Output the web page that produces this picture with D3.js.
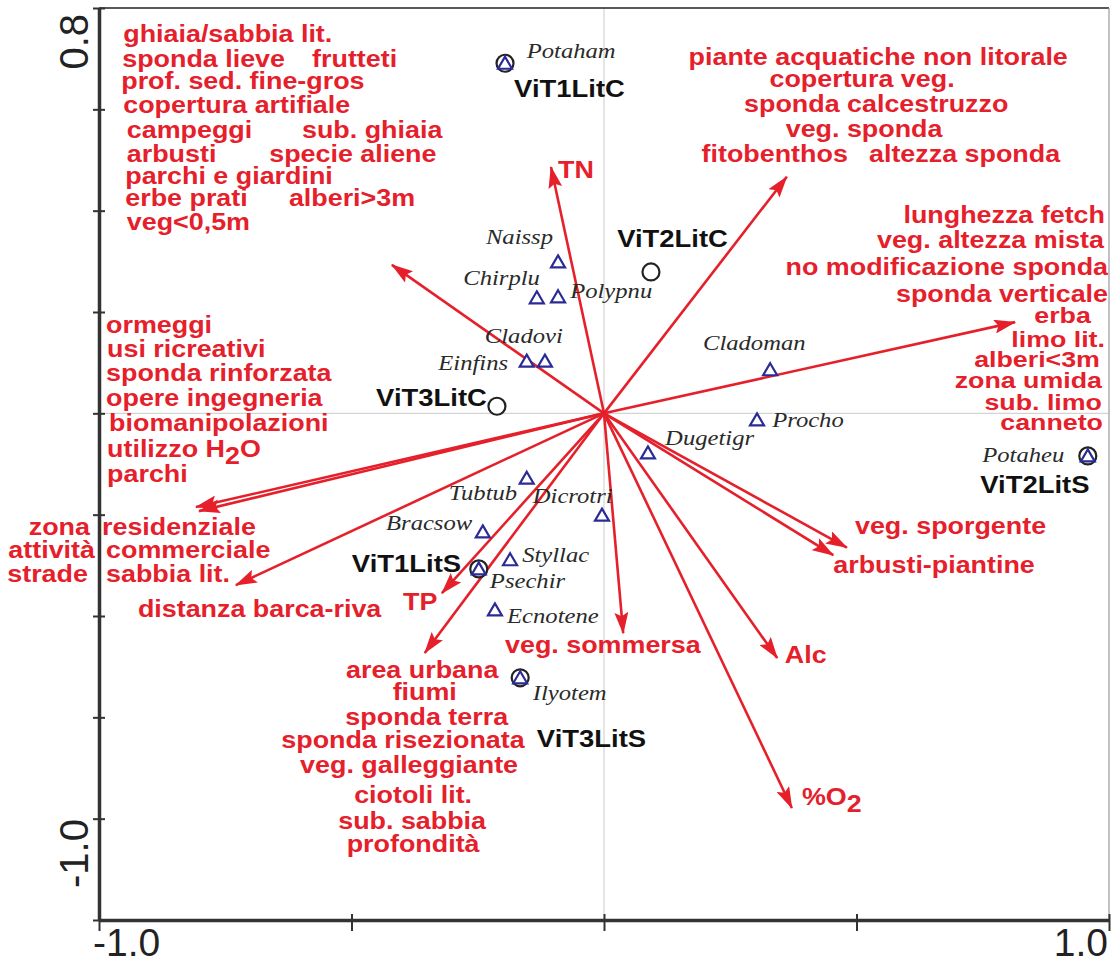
<!DOCTYPE html>
<html><head><meta charset="utf-8">
<script src="https://cdn.jsdelivr.net/npm/d3@7"></script>
<style>body{margin:0;background:#fff}</style>
</head><body><svg id="c" width="1111" height="965"></svg>
<script>
// ---------- data (ordination scores) ----------
const speciesNames = ["Potaham","Naissp","Chirplu","Polypnu","Cladovi","Einfins","Cladoman","Procho","Dugetigr","Tubtub","Dicrotri","Bracsow","Styllac","Psechir","Ecnotene","Ilyotem","Potaheu"];
const speciesAxis1 = [-0.196,-0.091,-0.133,-0.091,-0.117,-0.153,0.329,0.303,0.087,-0.153,-0.004,-0.240,-0.186,-0.248,-0.216,-0.166,0.958];
const speciesAxis2 = [0.691,0.299,0.228,0.230,0.103,0.103,0.086,-0.013,-0.078,-0.128,-0.201,-0.234,-0.289,-0.307,-0.388,-0.522,-0.084];

const siteNames = ["ViT1LitC","ViT2LitC","ViT3LitC","ViT2LitS","ViT1LitS","ViT3LitS"];
const siteAxis1 = [-0.196,0.093,-0.212,0.958,-0.248,-0.166];
const siteAxis2 = [0.691,0.279,0.014,-0.084,-0.307,-0.522];

const envArrowIds = ["TN","groupUL","groupUR","groupR","groupL1","groupL2","sabbiaLit","TP","groupBottom","vegSommersa","Alc","O2","vegSporgente","arbustiPiantine"];
const envAxis1 = [-0.105,-0.420,0.362,0.814,-0.808,-0.802,-0.729,-0.321,-0.355,0.038,0.343,0.372,0.481,0.454];
const envAxis2 = [0.486,0.293,0.467,0.180,-0.185,-0.193,-0.339,-0.355,-0.473,-0.434,-0.483,-0.779,-0.265,-0.280];

const xTicks = [-1.0,-0.5,0,0.5,1.0];
const yTicks = [0.8,0.6,0.4,0.2,0,-0.2,-0.4,-0.6,-0.8,-1.0];
const xTickLabels = ["-1.0","1.0"];
const yTickLabels = ["0.8","-1.0"];

// environmental variable labels (text) ; "_" marks a subscript character
const envLabelText = [
 "ghiaia/sabbia lit.","sponda lieve","frutteti","prof. sed. fine-gros","copertura artifiale","campeggi","sub. ghiaia","arbusti","specie aliene","parchi e giardini","erbe prati","alberi>3m","veg<0,5m",
 "piante acquatiche non litorale","copertura veg.","sponda calcestruzzo","veg. sponda","fitobenthos","altezza sponda",
 "lunghezza fetch","veg. altezza mista","no modificazione sponda","sponda verticale","erba","limo lit.","alberi<3m","zona umida","sub. limo","canneto",
 "ormeggi","usi ricreativi","sponda rinforzata","opere ingegneria","biomanipolazioni","utilizzo H_2O","parchi",
 "zona","residenziale","attività","commerciale","strade","sabbia lit.","distanza barca-riva","TP",
 "area urbana","fiumi","sponda terra","sponda risezionata","veg. galleggiante","ciotoli lit.","sub. sabbia","profondità",
 "veg. sommersa","Alc","%O_2","veg. sporgente","arbusti-piantine","TN"
];

// ---------- label layout (data units, anchor, compact flag) ----------
const envLabelPos = [
 [-0.952,0.733,"start"],[-0.954,0.684,"start"],[-0.578,0.684,"start"],[-0.956,0.640,"start"],[-0.952,0.593,"start"],[-0.945,0.543,"start"],[-0.598,0.543,"start"],[-0.945,0.496,"start"],[-0.663,0.496,"start"],[-0.948,0.453,"start"],[-0.948,0.409,"start"],[-0.624,0.409,"start"],[-0.945,0.362,"start"],
 [0.543,0.688,"middle"],[0.511,0.644,"middle"],[0.539,0.595,"middle"],[0.515,0.545,"middle"],[0.338,0.496,"middle"],[0.714,0.496,"middle"],
 [0.992,0.376,"end"],[0.990,0.326,"end"],[0.998,0.273,"end"],[0.998,0.220,"end"],[0.964,0.178,"end",1],[0.992,0.131,"end",1],[0.982,0.091,"end",1],[0.986,0.050,"end",1],[0.986,0.007,"end",1],[0.988,-0.033,"end",1],
 [-0.986,0.159,"start"],[-0.984,0.111,"start"],[-0.986,0.064,"start"],[-0.986,0.015,"start"],[-0.980,-0.035,"start"],[-0.984,-0.086,"start"],[-0.984,-0.136,"start"],
 [-1.018,-0.240,"end"],[-0.994,-0.240,"start"],[-1.008,-0.286,"end"],[-0.986,-0.286,"start"],[-1.022,-0.333,"end"],[-0.986,-0.333,"start"],[-0.923,-0.402,"start"],[-0.398,-0.388,"start"],
 [-0.360,-0.522,"middle"],[-0.355,-0.566,"middle"],[-0.351,-0.615,"middle"],[-0.398,-0.661,"middle"],[-0.386,-0.710,"middle"],[-0.378,-0.769,"middle"],[-0.380,-0.820,"middle"],[-0.378,-0.866,"middle"],
 [-0.196,-0.473,"start"],[0.358,-0.493,"start"],[0.392,-0.773,"start"],[0.497,-0.238,"start"],[0.454,-0.315,"start"],[-0.091,0.465,"start"]
];
const speciesLabelPos = [
 [-0.153,0.701,"start"],[-0.101,0.334,"end"],[-0.127,0.253,"end"],[-0.067,0.228,"start"],[-0.236,0.139,"start"],[-0.190,0.086,"end"],[0.196,0.125,"start"],[0.333,-0.027,"start"],[0.121,-0.063,"start"],[-0.172,-0.171,"end"],[-0.141,-0.177,"start"],[-0.261,-0.230,"end"],[-0.162,-0.293,"start"],[-0.226,-0.345,"start"],[-0.192,-0.414,"start"],[-0.141,-0.566,"start"],[0.749,-0.096,"start"]
];
const siteLabelPos = [
 [-0.178,0.624,"start"],[0.026,0.328,"start"],[-0.232,0.015,"end"],[0.745,-0.157,"start"],[-0.283,-0.313,"end"],[-0.133,-0.658,"start"]
];

// ---------- drawing ----------
const W = 1111, H = 965;
const svg = d3.select("#c");
const x = d3.scaleLinear().domain([-1, 1]).range([99, 1109]);
const y = d3.scaleLinear().domain([-1, 0.8]).range([920, 8]);
const RED = "#e5202b", BLUE = "#2b2b96", SX = 1.12;

svg.append("rect").attr("width", W).attr("height", H).attr("fill", "#fff");

// zero lines
svg.append("line").attr("x1", x(0)).attr("x2", x(0)).attr("y1", y(0.8)).attr("y2", y(-1))
  .attr("stroke", "#d4d4d4").attr("stroke-width", 1.2);
svg.append("line").attr("x1", x(-1)).attr("x2", x(1)).attr("y1", y(0)).attr("y2", y(0))
  .attr("stroke", "#d4d4d4").attr("stroke-width", 1.2);

// frame
svg.append("line").attr("x1", x(-1)).attr("x2", x(1)).attr("y1", y(0.8)).attr("y2", y(0.8))
  .attr("stroke", "#222").attr("stroke-width", 1.6);
svg.append("line").attr("x1", x(1)).attr("x2", x(1)).attr("y1", y(0.8)).attr("y2", y(-1))
  .attr("stroke", "#999").attr("stroke-width", 1.2);

// axes
const gy = svg.append("g").attr("transform", `translate(${x(-1)},0)`)
  .call(d3.axisLeft(y).tickValues(yTicks).tickFormat("").tickSizeOuter(0));
gy.select(".domain").attr("stroke", "#333").attr("stroke-width", 3.5);
gy.selectAll(".tick line").attr("x1", -6).attr("x2", 6).attr("stroke", "#333").attr("stroke-width", 2);

const gx = svg.append("g").attr("transform", `translate(0,${y(-1)})`)
  .call(d3.axisBottom(x).tickValues(xTicks).tickFormat("").tickSizeOuter(0));
gx.select(".domain").attr("stroke", "#333").attr("stroke-width", 3.5);
gx.selectAll(".tick line").attr("y1", -6).attr("y2", 11).attr("stroke", "#333").attr("stroke-width", 2);

const axisFont = "'Liberation Sans', Arial, sans-serif";
svg.append("text").attr("x", x(-1) - 6).attr("y", 956).attr("text-anchor", "start")
  .attr("font-family", axisFont).attr("font-size", 39).attr("fill", "#222").text(xTickLabels[0]);
svg.append("text").attr("x", x(1) - 1).attr("y", 956).attr("text-anchor", "end")
  .attr("font-family", axisFont).attr("font-size", 39).attr("fill", "#222").text(xTickLabels[1]);
svg.append("text").attr("transform", `translate(88,${y(0.8) + 6}) rotate(-90)`).attr("text-anchor", "end")
  .attr("font-family", axisFont).attr("font-size", 40).attr("fill", "#222").text(yTickLabels[0]);
svg.append("text").attr("transform", `translate(88,${y(-1) - 32}) rotate(-90)`).attr("text-anchor", "start")
  .attr("font-family", axisFont).attr("font-size", 40).attr("fill", "#222").text(yTickLabels[1]);

// arrows
const defs = svg.append("defs");
defs.append("marker").attr("id", "ah").attr("viewBox", "0 0 22 14")
  .attr("refX", 21).attr("refY", 7).attr("markerWidth", 22).attr("markerHeight", 14)
  .attr("markerUnits", "userSpaceOnUse").attr("orient", "auto")
  .append("path").attr("d", "M0,0 L22,7 L0,14 L4,7 Z").attr("fill", RED);

const arrows = envArrowIds.map((id, i) => ({ id, a1: envAxis1[i], a2: envAxis2[i] }));
svg.append("g").selectAll("path").data(arrows).join("path")
  .attr("d", d => `M${x(0)},${y(0)} L${x(d.a1)},${y(d.a2)}`)
  .attr("stroke", RED).attr("stroke-width", 2.6).attr("fill", "none")
  .attr("marker-end", "url(#ah)");

// sites (circles)
const sites = siteNames.map((n, i) => ({ n, a1: siteAxis1[i], a2: siteAxis2[i], pos: siteLabelPos[i] }));
svg.append("g").selectAll("circle").data(sites).join("circle")
  .attr("cx", d => x(d.a1)).attr("cy", d => y(d.a2)).attr("r", 8.5)
  .attr("fill", "#fff").attr("stroke", "#222").attr("stroke-width", 2.2);

// species (triangles)
const species = speciesNames.map((n, i) => ({ n, a1: speciesAxis1[i], a2: speciesAxis2[i], pos: speciesLabelPos[i] }));
svg.append("g").selectAll("path").data(species).join("path")
  .attr("transform", d => `translate(${x(d.a1)},${y(d.a2)})`)
  .attr("d", "M0,-6.5 L7,5.5 L-7,5.5 Z")
  .attr("fill", "#fff").attr("stroke", BLUE).attr("stroke-width", 2.2).attr("stroke-linejoin", "miter");

// text helper
function addText(g, txt, px, py, anchor, fontFamily, size, weight, style, fill, sx) {
  const t = g.append("text")
    .attr("transform", `translate(${px},${py}) scale(${sx || SX},1)`)
    .attr("text-anchor", anchor).attr("font-family", fontFamily)
    .attr("font-size", size).attr("font-weight", weight).attr("font-style", style)
    .attr("fill", fill);
  const parts = txt.split("_");
  if (parts.length === 1) { t.text(txt); return; }
  t.append("tspan").text(parts[0]);
  t.append("tspan").attr("dy", 7).text(parts[1][0]);
  if (parts[1].length > 1) t.append("tspan").attr("dy", -7).text(parts[1].slice(1));
}

const sansB = "'Liberation Sans', Arial, Helvetica, sans-serif";
const serif = "'Liberation Serif', 'Times New Roman', serif";

const gl = svg.append("g");
envLabelText.forEach((t, i) => {
  const p = envLabelPos[i];
  const compact = p[3] === 1;
  addText(gl, t, x(p[0]), y(p[1]), p[2], sansB, compact ? 22.5 : 24, "bold", "normal", RED, compact ? 1.19 : SX);
});
species.forEach(d => addText(gl, d.n, x(d.pos[0]), y(d.pos[1]), d.pos[2], serif, 22, "normal", "italic", "#2a2a2a"));
sites.forEach(d => addText(gl, d.n, x(d.pos[0]), y(d.pos[1]), d.pos[2], sansB, 24.5, "bold", "normal", "#111"));
</script>
</body></html>
